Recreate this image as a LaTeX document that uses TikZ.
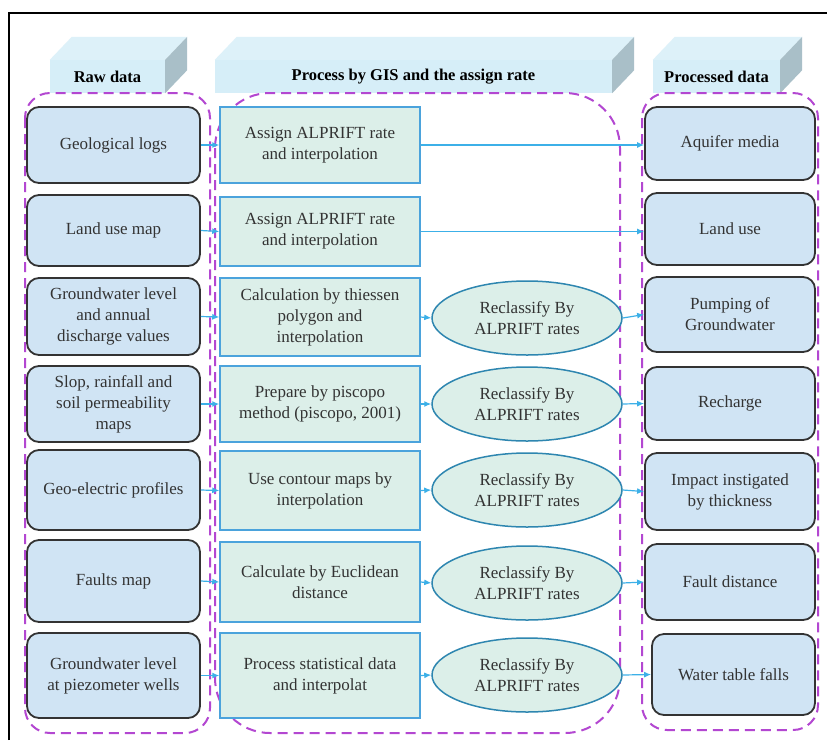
\documentclass[tikz,border=0pt]{standalone}
\usepackage{fontspec}
\setmainfont{Liberation Serif}
\usetikzlibrary{arrows.meta,shapes.geometric}
\definecolor{rawfill}{HTML}{D0E4F4}
\definecolor{procfill}{HTML}{DCEFE9}
\definecolor{procline}{HTML}{4BA3DC}
\definecolor{ellline}{HTML}{2E86B0}
\definecolor{hfront}{HTML}{D6EEF8}
\definecolor{htop}{HTML}{DDF1F9}
\definecolor{hside}{HTML}{A9BFC8}
\definecolor{dashcol}{HTML}{B347D1}
\definecolor{arrcol}{HTML}{3CB0E8}
\tikzset{
  x=1pt, y=-1pt,
  every node/.style={font=\fontsize{17}{21}\selectfont, text=black!80, align=center, inner sep=1pt},
  databox/.style={draw=black!80, line width=1.8pt, fill=rawfill, rounded corners=12pt},
  procbox/.style={draw=procline, line width=1.5pt, fill=procfill, minimum width=200pt},
  rclass/.style={ellipse, draw=ellline, line width=1.5pt, fill=procfill, minimum width=190pt, minimum height=74pt, inner sep=0pt},
  group/.style={draw=dashcol, line width=2pt, dash pattern=on 10pt off 6pt},
  conn/.style={draw=arrcol, line width=1.2pt, -{Latex[length=7pt,width=6pt]}},
  hdr/.style={fill=hfront, draw=none, font=\fontsize{16.5}{18}\selectfont\bfseries, text=black},
}
\begin{document}
\begin{tikzpicture}
\useasboundingbox (0,0) rectangle (827,740);
\fill[white] (0,0) rectangle (827,740);
% frame
\draw[line width=2pt, black] (9,740) -- (9,13) -- (827,13);

% headers (3D blocks)
\node[hdr, minimum width=115pt, minimum height=33pt] (h1) at (107.5,76.5) {Raw data};
\node[hdr, minimum width=397pt, minimum height=33pt] (h2) at (413.5,76.5) {Process by GIS and the assign rate};
\node[hdr, minimum width=127pt, minimum height=33pt] (h3) at (716.5,76.5) {Processed data};
\foreach \h in {h1,h2,h3}{
  \fill[htop] (\h.north west) -- ++(22,-23) -- ([xshift=22pt,yshift=23pt]\h.north east) -- (\h.north east) -- cycle;
  \fill[hside] (\h.north east) -- ++(22,-23) -- ([xshift=22pt,yshift=23pt]\h.south east) -- (\h.south east) -- cycle;
}

% dashed groups
\draw[group, rounded corners=25pt] (25,93) rectangle (210,733);
\draw[group, rounded corners=55pt] (215,93) rectangle (620,733);
\draw[group, rounded corners=25pt] (642,93) rectangle (818,730);

% raw data
\node[databox, minimum width=173pt, minimum height=76pt] (r1) at (113.5,145) {Geological logs};
\node[databox, minimum width=173pt, minimum height=71pt] (r2) at (113.5,230.5) {Land use map};
\node[databox, minimum width=173pt, minimum height=77pt] (r3) at (113.5,316.5) {Groundwater level\\and annual\\discharge values};
\node[databox, minimum width=173pt, minimum height=76pt] (r4) at (113.5,404) {Slop, rainfall and\\soil permeability\\maps};
\node[databox, minimum width=173pt, minimum height=80pt] (r5) at (113.5,490) {Geo-electric profiles};
\node[databox, minimum width=173pt, minimum height=82pt] (r6) at (113.5,581) {Faults map};
\node[databox, minimum width=173pt, minimum height=85pt] (r7) at (113.5,675.5) {Groundwater level\\at piezometer wells};

% process
\node[procbox, minimum height=76pt] (p1) at (320,145) {Assign ALPRIFT rate\\and interpolation};
\node[procbox, minimum height=69pt] (p2) at (320,231.5) {Assign ALPRIFT rate\\and interpolation};
\node[procbox, minimum height=78pt] (p3) at (320,317) {Calculation by thiessen\\polygon and\\interpolation};
\node[procbox, minimum height=76pt] (p4) at (320,404) {Prepare by piscopo\\method (piscopo, 2001)};
\node[procbox, minimum height=79pt] (p5) at (320,490.5) {Use contour maps by\\interpolation};
\node[procbox, minimum height=80pt] (p6) at (320,582) {Calculate by Euclidean\\distance};
\node[procbox, minimum height=85pt] (p7) at (320,675.5) {Process statistical data\\and interpolat};

% reclassify
\node[rclass] (e3) at (527,318) {Reclassify By\\ALPRIFT rates};
\node[rclass] (e4) at (527,404) {Reclassify By\\ALPRIFT rates};
\node[rclass] (e5) at (527,490) {Reclassify By\\ALPRIFT rates};
\node[rclass] (e6) at (527,583) {Reclassify By\\ALPRIFT rates};
\node[rclass] (e7) at (527,675) {Reclassify By\\ALPRIFT rates};

% processed data
\node[databox, minimum width=170pt, minimum height=73pt] (o1) at (730,143.5) {Aquifer media};
\node[databox, minimum width=170pt, minimum height=72pt] (o2) at (730,229) {Land use};
\node[databox, minimum width=170pt, minimum height=75pt] (o3) at (730,314.5) {Pumping of\\Groundwater};
\node[databox, minimum width=170pt, minimum height=73pt] (o4) at (730,403.5) {Recharge};
\node[databox, minimum width=170pt, minimum height=77pt] (o5) at (730,491.5) {Impact instigated\\by thickness};
\node[databox, minimum width=170pt, minimum height=76pt] (o6) at (730,582) {Fault distance};
\node[databox, minimum width=163pt, minimum height=81pt] (o7) at (733.5,674.5) {Water table falls};

% connectors
\foreach \i in {1,...,7}{
  \draw[conn] (r\i.east) -- (p\i.west);
}
\draw[conn] (p1.east) -- (o1.west |- p1.east);
\draw[conn] (p2.east) -- (o2.west |- p2.east);
\foreach \i in {3,...,7}{
  \draw[conn] (p\i.east) -- (e\i.west);
  \draw[conn] (e\i.east) -- (o\i.west);
}
\end{tikzpicture}
\end{document}
